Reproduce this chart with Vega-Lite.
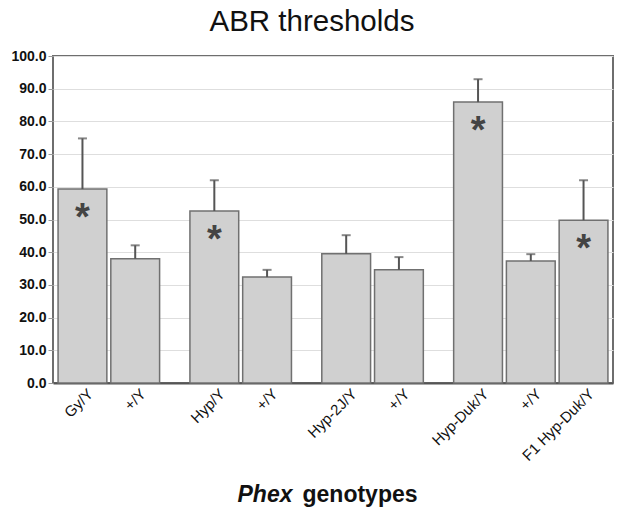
{
  "$schema": "https://vega.github.io/schema/vega-lite/v6.json",
  "width": 560,
  "height": 327,
  "padding": {"left": 10, "top": 6, "right": 8, "bottom": 5},
  "background": "white",
  "title": {"text": "ABR thresholds", "anchor": "middle", "frame": "bounds", "font": "Liberation Sans", "fontSize": 29.5, "fontWeight": "normal", "color": "#111", "offset": 12},
  "config": {
    "view": {"stroke": "#6e6e6e", "strokeWidth": 2},
    "font": "Liberation Sans"
  },
  "data": {"values": [
    {"id": "Gy/Y", "value": 59.3, "hi": 74.8, "sig": true},
    {"id": "+/Y#1", "value": 38.0, "hi": 42.1, "sig": false},
    {"id": "Hyp/Y", "value": 52.6, "hi": 62.0, "sig": true},
    {"id": "+/Y#2", "value": 32.4, "hi": 34.6, "sig": false},
    {"id": "Hyp-2J/Y", "value": 39.5, "hi": 45.2, "sig": false},
    {"id": "+/Y#3", "value": 34.6, "hi": 38.5, "sig": false},
    {"id": "Hyp-Duk/Y", "value": 85.9, "hi": 92.9, "sig": true},
    {"id": "+/Y#4", "value": 37.3, "hi": 39.4, "sig": false},
    {"id": "F1 Hyp-Duk/Y", "value": 49.8, "hi": 62.0, "sig": true}
  ]},
  "resolve": {"axis": {"x": "independent", "y": "independent"}},
  "layer": [
    {
      "mark": {"type": "bar", "width": {"band": 1.85}, "fill": "#d0d0d0", "stroke": "#707070", "strokeWidth": 1.5},
      "encoding": {
        "x": {"field": "id", "type": "nominal", "sort": null,
          "scale": {"type": "band", "domain": ["Gy/Y","_1","+/Y#1","_2","_3","Hyp/Y","_4","+/Y#2","_5","_6","Hyp-2J/Y","_7","+/Y#3","_8","_9","Hyp-Duk/Y","_10","+/Y#4","_11","F1 Hyp-Duk/Y"], "paddingInner": 0, "paddingOuter": 0.617},
          "axis": {"orient": "bottom", "labelExpr": "indexof(datum.value, '_') == 0 ? '' : split(datum.value, '#')[0]", "labelAngle": -45, "labelAlign": "right", "labelBaseline": "middle", "labelFont": "Liberation Sans", "labelFontSize": 15, "labelColor": "#111", "labelPadding": 8, "labelOffset": 8, "ticks": false, "grid": false, "domainColor": "#555", "domainWidth": 2, "labelOverlap": false,
            "title": "Phex", "titleFont": "Liberation Sans", "titleFontSize": 23, "titleFontWeight": "bold", "titleFontStyle": "italic", "titleColor": "#111", "titleAnchor": "start", "titleAlign": "left", "titleBaseline": "alphabetic", "titleX": 184, "titleY": 118}},
        "y": {"field": "value", "type": "quantitative",
          "scale": {"domain": [0, 100], "nice": false},
          "axis": {"orient": "left", "title": null, "values": [0,10,20,30,40,50,60,70,80,90,100], "labelOverlap": false, "format": ".1f", "labelFont": "Liberation Sans", "labelFontSize": 14, "labelFontWeight": "bold", "labelColor": "#111", "labelPadding": 2, "tickSize": 5, "tickColor": "#999", "domain": false, "gridColor": "#dedede", "gridWidth": 1}}
      }
    },
    {
      "mark": {"type": "rule", "color": "#555", "strokeWidth": 2},
      "encoding": {
        "x": {"field": "id", "type": "nominal", "sort": null,
          "axis": {"orient": "bottom", "labels": false, "ticks": false, "domain": false, "grid": false,
            "title": "genotypes", "titleFont": "Liberation Sans", "titleFontSize": 23, "titleFontWeight": "bold", "titleColor": "#111", "titleAnchor": "start", "titleAlign": "left", "titleBaseline": "alphabetic", "titleX": 249, "titleY": 118}},
        "y": {"field": "value", "type": "quantitative", "axis": null},
        "y2": {"field": "hi"}
      }
    },
    {
      "mark": {"type": "tick", "color": "#555", "thickness": 2, "size": 9},
      "encoding": {
        "x": {"field": "id", "type": "nominal", "sort": null, "axis": null},
        "y": {"field": "hi", "type": "quantitative", "axis": null}
      }
    },
    {
      "transform": [{"filter": "datum.sig"}],
      "mark": {"type": "text", "text": "*", "font": "Liberation Sans", "fontSize": 38, "fontWeight": "bold", "color": "#444", "baseline": "top", "dy": 11},
      "encoding": {
        "x": {"field": "id", "type": "nominal", "sort": null, "axis": null},
        "y": {"field": "value", "type": "quantitative", "axis": null}
      }
    }
  ]
}
